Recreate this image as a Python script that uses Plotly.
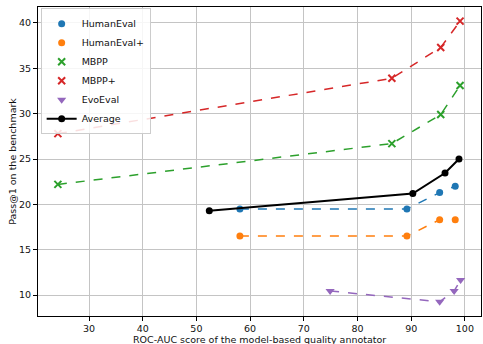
import plotly.graph_objects as go

# Data
he_x = [58.1, 89.2, 95.3, 98.2]
he_y = [19.5, 19.5, 21.3, 22.0]
hep_x = [58.1, 89.2, 95.3, 98.2]
hep_y = [16.5, 16.5, 18.3, 18.3]
mbpp_x = [24.2, 86.4, 95.5, 99.1]
mbpp_y = [22.2, 26.7, 29.9, 33.1]
mbppp_x = [24.2, 86.4, 95.5, 99.1]
mbppp_y = [27.8, 33.9, 37.3, 40.2]
evo_x = [74.9, 95.3, 98.0, 99.2]
evo_y = [10.45, 9.25, 10.45, 11.65]
avg_x = [52.4, 90.3, 96.3, 98.9]
avg_y = [19.3, 21.2, 23.45, 25.0]

x_ticks = [30, 40, 50, 60, 70, 80, 90, 100]
y_ticks = [10, 15, 20, 25, 30, 35, 40]
x_title = "ROC-AUC score of the model-based quality annotator"
y_title = "Pass@1 on the benchmark"

series = [
    ("HumanEval", he_x, he_y, "#1f77b4", "circle", 7),
    ("HumanEval+", hep_x, hep_y, "#ff7f0e", "circle", 7),
    ("MBPP", mbpp_x, mbpp_y, "#2ca02c", "x-thin", 7),
    ("MBPP+", mbppp_x, mbppp_y, "#d62728", "x-thin", 7),
    ("EvoEval", evo_x, evo_y, "#9467bd", "triangle-down", 8),
]

fig = go.Figure()
# dashed connecting lines (not in legend)
for name, xs, ys, col, sym, sz in series:
    fig.add_trace(go.Scatter(x=xs, y=ys, mode="lines", showlegend=False,
                             line=dict(color=col, width=1.5, dash="dash"),
                             hoverinfo="skip"))
# markers (legend entries)
for name, xs, ys, col, sym, sz in series:
    mk = dict(color=col, symbol=sym, size=sz)
    if sym == "x-thin":
        mk["line"] = dict(color=col, width=2)
    fig.add_trace(go.Scatter(x=xs, y=ys, mode="markers", name=name, marker=mk))
fig.add_trace(go.Scatter(x=avg_x, y=avg_y, mode="lines+markers", name="Average",
                         line=dict(color="black", width=2),
                         marker=dict(color="black", size=7, symbol="circle")))

font = "DejaVu Sans, sans-serif"
fs = 9.5
axis_common = dict(showline=True, mirror=True, linecolor="black", linewidth=1,
                   ticks="outside", ticklen=4, tickcolor="black", tickwidth=1,
                   showgrid=True, gridcolor="#c4c4c4", gridwidth=1,
                   zeroline=False, tickfont=dict(size=fs, color="#111", family=font),
                   automargin=False)

fig.update_layout(
    width=483, height=344,
    margin=dict(l=38, r=2, t=7, b=28),
    paper_bgcolor="white", plot_bgcolor="white",
    font=dict(family=font, size=fs, color="#111"),
    xaxis=dict(range=[20.5, 103.0], tickvals=x_ticks, **axis_common),
    yaxis=dict(range=[7.69, 41.76], tickvals=y_ticks, **axis_common),
    legend=dict(x=0.006, y=0.996, xanchor="left", yanchor="top",
                bgcolor="rgba(255,255,255,0.85)", bordercolor="#cccccc", borderwidth=1,
                font=dict(size=fs, family=font, color="#111"),
                itemwidth=30, tracegroupgap=0),
    showlegend=True,
    annotations=[
        dict(text=x_title, xref="paper", yref="paper", x=0.5, y=-0.075,
             xanchor="center", yanchor="middle", showarrow=False,
             font=dict(size=fs, family=font, color="#111")),
        dict(text=y_title, xref="paper", yref="paper", x=-0.058, y=0.5,
             xanchor="center", yanchor="middle", showarrow=False, textangle=-90,
             font=dict(size=fs, family=font, color="#111")),
    ],
)

fig.write_html("out.html", config={"displayModeBar": False},
               post_script="document.body.style.margin='0';document.body.style.overflow='hidden';")
